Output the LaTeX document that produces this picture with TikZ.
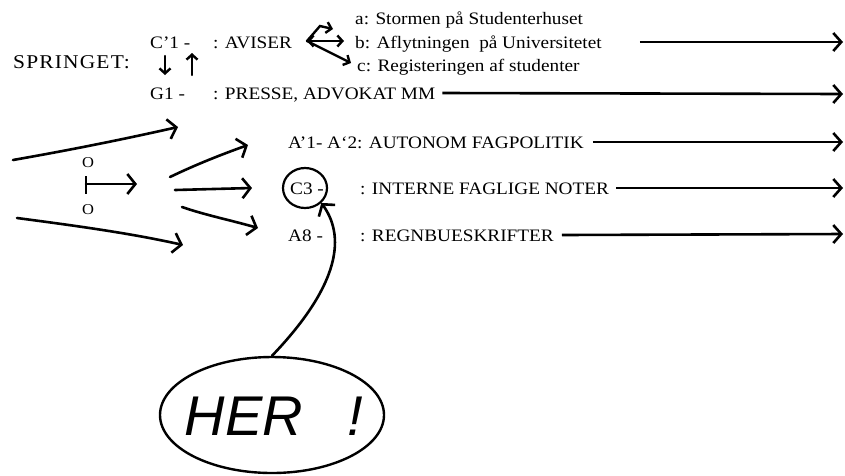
\documentclass[tikz,border=0pt]{standalone}
\usepackage{fontspec}
\setmainfont{Liberation Serif}[FakeStretch=1.1]
\newfontfamily\spacedfont{Liberation Serif}[FakeStretch=1.1,LetterSpace=6]
\newfontfamily\handfont{Liberation Sans}
\usetikzlibrary{arrows.meta,positioning,shapes.geometric}

\tikzset{
  lbl/.style={anchor=west, inner sep=0pt, text height=12pt, text depth=0pt,
    font=\fontsize{17.5}{20}\selectfont},
  hand/.style={line width=2.6pt, line cap=round,
    -{Straight Barb[length=8pt,width=20pt,line width=2.6pt]}},
  tiny/.style={line width=2.4pt, line cap=round,
    -{Straight Barb[length=5pt,width=11pt,line width=2.4pt]}},
  ray/.style={line width=2.6pt,
    -{Straight Barb[length=8pt,width=18pt,line width=2.6pt]}},
}

\begin{document}
\begin{tikzpicture}[x=1pt,y=-1pt]
\useasboundingbox (0,0) rectangle (845,475);

% headings
\node[lbl, font=\spacedfont\fontsize{19.5}{20}\selectfont] (springet) at (13,62) {SPRINGET:};
\node[lbl] (c1) at (150,42) {C'1 -};
\node[lbl] (aviser) at (213,42) {: AVISER};
\node[lbl] (g1) at (150,93) {G1 -};
\node[lbl] (presse) at (213,93) {: PRESSE, ADVOKAT MM};

% the three newspaper cases
\node[lbl] (a) at (355,18) {a: Stormen på Studenterhuset};
\node[lbl] (b) at (355,42) {b: Aflytningen\ \ på Universitetet};
\node[lbl] (c) at (357,65) {c: Registeringen af studenter};

% lower rows
\node[lbl] (autonom) at (288,142) {A'1- A`2: AUTONOM FAGPOLITIK};
\node[lbl] (c3) at (290,188) {C3 -};
\node[lbl] (interne) at (360,188) {: INTERNE FAGLIGE NOTER};
\node[lbl] (a8) at (288,235) {A8 -};
\node[lbl] (regn) at (360,235) {: REGNBUESKRIFTER};

% ring round C3
\node[draw, ellipse, line width=2.2pt, minimum width=44pt, minimum height=40pt] (c3ring) at (305,188) {};

% toggle arrows between C'1 and G1
\draw[tiny] (165,56) -- (165,75);
\draw[tiny] (192,75) -- (192,53);

% branching from AVISER
\coordinate (fan) at (307,41);
\draw[tiny] (314,41) -- (fan);
\draw[tiny] (fan) -- (320,26) -- (333,29);
\draw[tiny] (fan) -- (344,41);
\draw[tiny] (fan) -- (351,63);

% long arrows to the margin
\coordinate (edge1) at (843,42);
\coordinate (edge2) at (843,94);
\coordinate (edge3) at (843,142);
\coordinate (edge4) at (843,188);
\coordinate (edge5) at (843,234);
\draw[ray] ([xshift=38pt]b.east) -- (edge1);
\draw[ray] ([xshift=7pt]presse.east) -- (edge2);
\draw[ray] ([xshift=9pt]autonom.east) -- (edge3);
\draw[ray] ([xshift=7pt]interne.east) -- (edge4);
\draw[ray] ([xshift=8pt]regn.east) -- (edge5);

% left strokes
\draw[hand] (13,160) .. controls (70,150) and (120,140) .. (178,127);
\draw[hand] (17,218) .. controls (70,225) and (130,233) .. (183,245);

% the little symbol
\node[inner sep=0pt, font=\fontsize{15}{15}\selectfont] (otop) at (88,163) {O};
\node[inner sep=0pt, font=\fontsize{15}{15}\selectfont] (obot) at (88,210) {O};
\draw[line width=2.6pt] (86,176) -- (86,194);
\coordinate (hub) at (86,184);
\draw[hand] (hub) -- (137,184);

% fan towards the three rows
\draw[hand] (170,177) .. controls (195,165) and (220,155) .. (248,145);
\draw[hand] (175,190) -- (252,188);
\draw[hand] (182,207) .. controls (205,215) and (230,220) .. (258,228);

% HER bubble
\node[draw, ellipse, line width=2.4pt, minimum width=224pt, minimum height=116pt] (her) at (272,415) {};
\node[font=\handfont\itshape\fontsize{56}{56}\selectfont, inner sep=0pt] (hertext) at (274,416) {HER\hspace{0.8em}!};
\draw[hand] (her.north) .. controls (335,290) and (348,240) .. (c3ring.south east);

\end{tikzpicture}
\end{document}
